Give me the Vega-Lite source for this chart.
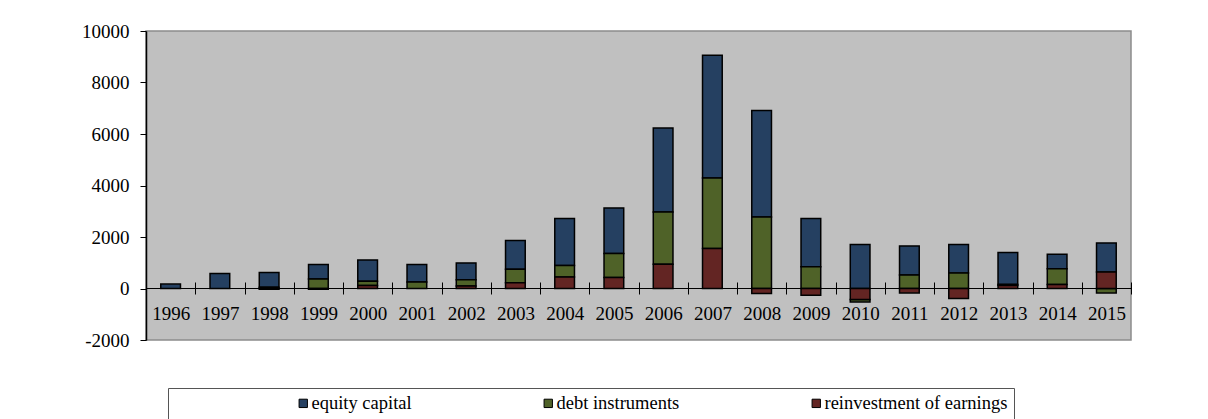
{
  "$schema": "https://vega.github.io/schema/vega-lite/v6.json",
  "autosize": "none",
  "width": 985,
  "height": 309,
  "padding": {"left": 146, "top": 31, "right": 77, "bottom": 79},
  "background": "white",
  "config": {
    "view": {"fill": "#C0C0C0", "stroke": "#8C8C8C", "strokeWidth": 1.5},
    "font": "Liberation Serif",
    "legend": {"labelFont": "Liberation Serif", "labelFontSize": 18.5, "labelColor": "black", "labelLimit": 400},
    "axis": {"labelFont": "Liberation Serif", "labelFontSize": 19, "labelColor": "black"}
  },
  "data": {
    "values": [
      {"year": "1996", "type": "equity capital", "value": 170},
      {"year": "1997", "type": "equity capital", "value": 580},
      {"year": "1998", "type": "equity capital", "value": 570},
      {"year": "1998", "type": "debt instruments", "value": 50},
      {"year": "1998", "type": "reinvestment of earnings", "value": -30},
      {"year": "1999", "type": "equity capital", "value": 560},
      {"year": "1999", "type": "debt instruments", "value": 370},
      {"year": "1999", "type": "reinvestment of earnings", "value": -30},
      {"year": "2000", "type": "equity capital", "value": 830},
      {"year": "2000", "type": "debt instruments", "value": 160},
      {"year": "2000", "type": "reinvestment of earnings", "value": 120},
      {"year": "2001", "type": "equity capital", "value": 680},
      {"year": "2001", "type": "debt instruments", "value": 250},
      {"year": "2002", "type": "equity capital", "value": 660},
      {"year": "2002", "type": "debt instruments", "value": 235},
      {"year": "2002", "type": "reinvestment of earnings", "value": 100},
      {"year": "2003", "type": "equity capital", "value": 1110},
      {"year": "2003", "type": "debt instruments", "value": 530},
      {"year": "2003", "type": "reinvestment of earnings", "value": 220},
      {"year": "2004", "type": "equity capital", "value": 1825},
      {"year": "2004", "type": "debt instruments", "value": 445},
      {"year": "2004", "type": "reinvestment of earnings", "value": 450},
      {"year": "2005", "type": "equity capital", "value": 1770},
      {"year": "2005", "type": "debt instruments", "value": 930},
      {"year": "2005", "type": "reinvestment of earnings", "value": 430},
      {"year": "2006", "type": "equity capital", "value": 3260},
      {"year": "2006", "type": "debt instruments", "value": 2030},
      {"year": "2006", "type": "reinvestment of earnings", "value": 945},
      {"year": "2007", "type": "equity capital", "value": 4765},
      {"year": "2007", "type": "debt instruments", "value": 2745},
      {"year": "2007", "type": "reinvestment of earnings", "value": 1550},
      {"year": "2008", "type": "equity capital", "value": 4130},
      {"year": "2008", "type": "debt instruments", "value": 2780},
      {"year": "2008", "type": "reinvestment of earnings", "value": -190},
      {"year": "2009", "type": "equity capital", "value": 1880},
      {"year": "2009", "type": "debt instruments", "value": 840},
      {"year": "2009", "type": "reinvestment of earnings", "value": -260},
      {"year": "2010", "type": "equity capital", "value": 1710},
      {"year": "2010", "type": "debt instruments", "value": -90},
      {"year": "2010", "type": "reinvestment of earnings", "value": -430},
      {"year": "2011", "type": "equity capital", "value": 1135},
      {"year": "2011", "type": "debt instruments", "value": 520},
      {"year": "2011", "type": "reinvestment of earnings", "value": -170},
      {"year": "2012", "type": "equity capital", "value": 1100},
      {"year": "2012", "type": "debt instruments", "value": 605},
      {"year": "2012", "type": "reinvestment of earnings", "value": -390},
      {"year": "2013", "type": "equity capital", "value": 1240},
      {"year": "2013", "type": "debt instruments", "value": 40},
      {"year": "2013", "type": "reinvestment of earnings", "value": 120},
      {"year": "2014", "type": "equity capital", "value": 560},
      {"year": "2014", "type": "debt instruments", "value": 610},
      {"year": "2014", "type": "reinvestment of earnings", "value": 160},
      {"year": "2015", "type": "equity capital", "value": 1125},
      {"year": "2015", "type": "debt instruments", "value": -170},
      {"year": "2015", "type": "reinvestment of earnings", "value": 645}
    ]
  },
  "layer": [
    {
      "transform": [
        {"calculate": "indexof(['reinvestment of earnings','debt instruments','equity capital'], datum.type)", "as": "stackOrder"}
      ],
      "mark": {"type": "bar", "width": {"band": 0.4}, "stroke": "black", "strokeWidth": 1.5},
      "encoding": {
        "x": {
          "field": "year", "type": "nominal",
          "scale": {"paddingInner": 0, "paddingOuter": 0},
          "axis": {
            "title": null, "labelAngle": 0, "domain": false,
            "tickBand": "extent", "tickSize": 12, "tickColor": "black", "tickWidth": 1,
            "offset": -58, "labelPadding": 10,
            "labelFont": "Liberation Serif", "labelFontSize": 19, "labelColor": "black"
          }
        },
        "y": {
          "field": "value", "type": "quantitative", "stack": "zero",
          "scale": {"domain": [-2000, 10000], "nice": false, "zero": false},
          "axis": {
            "title": null, "grid": false, "values": [-2000, 0, 2000, 4000, 6000, 8000, 10000],
            "domainColor": "black", "domainWidth": 1.5, "tickColor": "black", "tickSize": 6,
            "labelPadding": 11, "labelFont": "Liberation Serif", "labelFontSize": 19,
            "labelColor": "black", "labelExpr": "'' + datum.value"
          }
        },
        "color": {
          "field": "type", "type": "nominal",
          "scale": {
            "domain": ["equity capital", "debt instruments", "reinvestment of earnings"],
            "range": ["#254061", "#4F6228", "#632523"]
          },
          "legend": {
            "title": null, "orient": "none", "direction": "horizontal",
            "legendX": 22, "legendY": 357,
            "padding": 6, "symbolOffset": 120, "columnPadding": 7,
            "symbolType": "square", "symbolSize": 70,
            "symbolStrokeColor": "black", "symbolStrokeWidth": 1,
            "labelFont": "Liberation Serif", "labelFontSize": 18.5, "labelColor": "black",
            "labelLimit": 400, "labelOffset": -1,
            "strokeColor": "#555555", "fillColor": "white"
          }
        },
        "order": {"field": "stackOrder", "type": "quantitative"}
      }
    },
    {
      "mark": {"type": "rule", "color": "black", "strokeWidth": 1},
      "encoding": {"y": {"datum": 0}}
    }
  ]
}
